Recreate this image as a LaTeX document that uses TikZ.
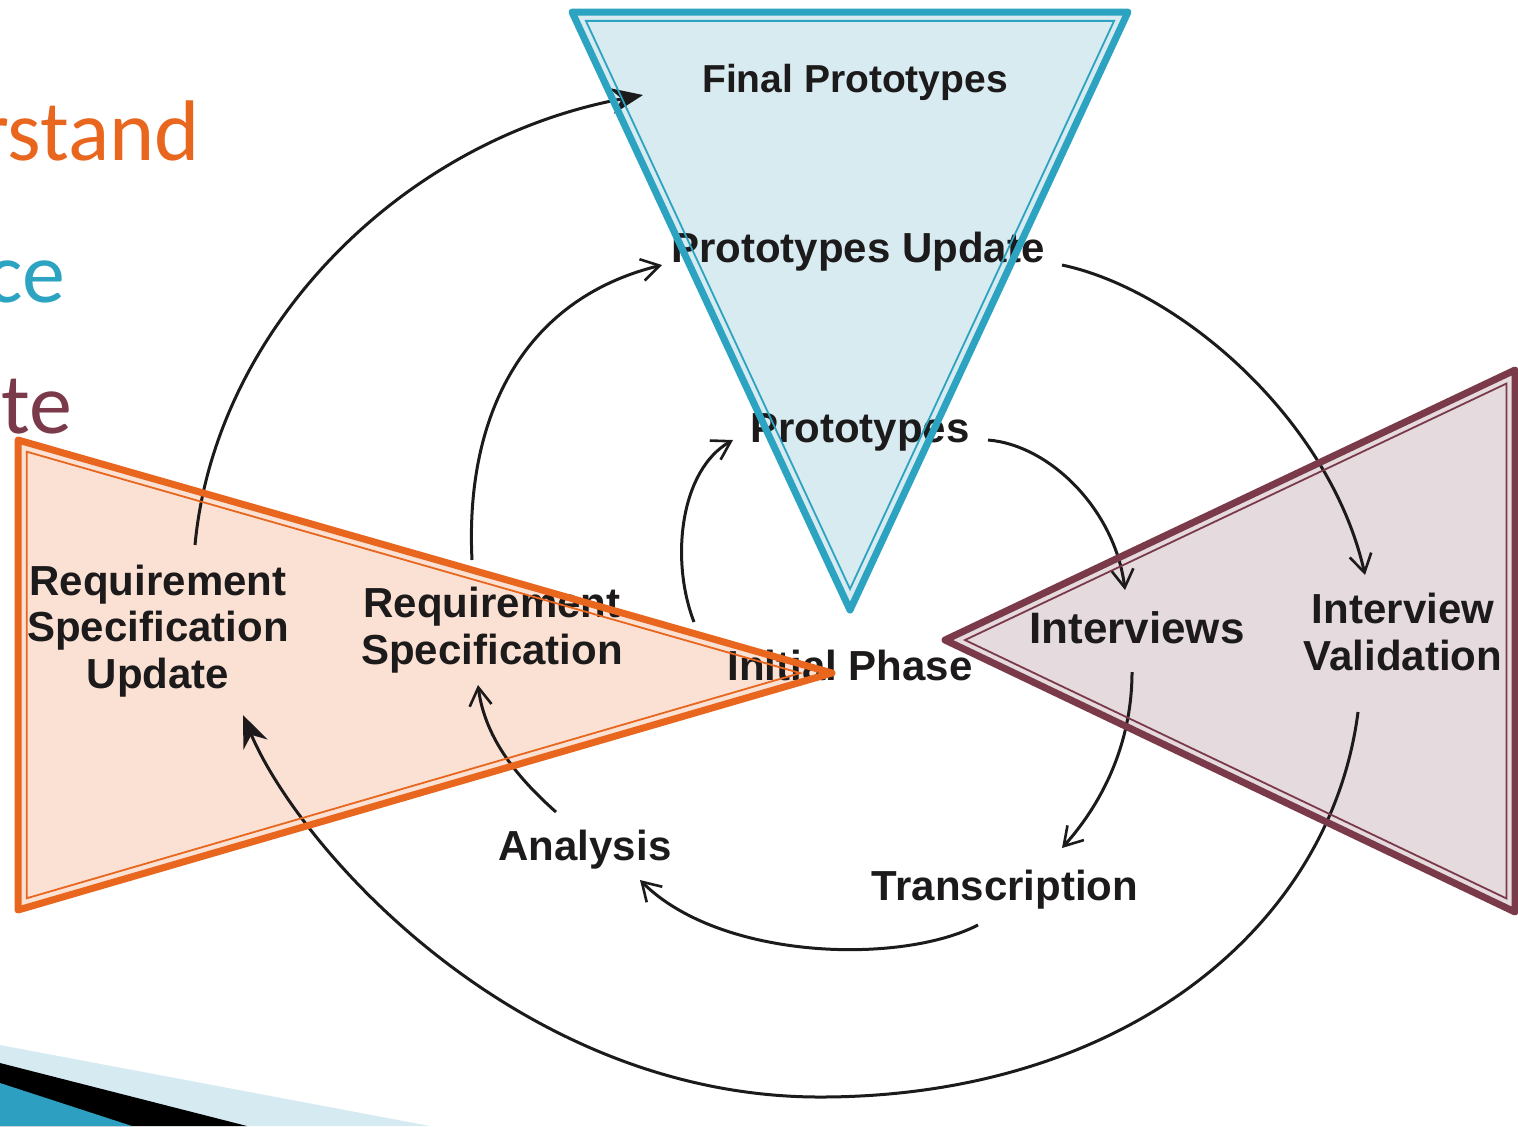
\documentclass[tikz,border=0pt]{standalone}
\usepackage{fontspec}
\setmainfont{Liberation Sans}
\newfontfamily\slidefont{Carlito}
\usetikzlibrary{arrows.meta,calc}
\definecolor{bluefill}{HTML}{D7EBF1}
\definecolor{blueline}{HTML}{2CA3C0}
\definecolor{orfill}{HTML}{FBE1D4}
\definecolor{orline}{HTML}{E8661E}
\definecolor{mafill}{HTML}{E5DADD}
\definecolor{maline}{HTML}{7B3A4A}
\definecolor{ink}{HTML}{1C1A1A}
\definecolor{lightband}{HTML}{D6EAF1}
\definecolor{bandblue}{HTML}{2D9FC0}
\begin{document}
\begin{tikzpicture}[x=0.5pt,y=-0.5pt,
 lab/.style={font=\fontsize{21}{23.25}\selectfont\bfseries, text=ink, align=center, anchor=base, inner sep=0pt},
 slide/.style={font=\slidefont\fontsize{43}{50}\selectfont, anchor=base east, inner sep=0pt},
 flow/.style={draw=ink, line width=1.5pt, -{Straight Barb[length=9pt,width=11pt,line width=1.3pt]}},
 bigflow/.style={draw=ink, line width=1.5pt, -{Stealth[length=16pt,width=13pt]}},
 outer/.style={line width=3.5pt, line join=round},
 inner/.style={line width=0.9pt, line join=miter}]
\useasboundingbox (0,0) rectangle (1518,1126);
\clip (0,0) rectangle (1518,1126);
% triangle corners
\coordinate (bA) at (572,12);  \coordinate (bB) at (1128,12); \coordinate (bC) at (850,610);
\coordinate (bI) at (850,189.3);
\coordinate (oA) at (18,440);  \coordinate (oB) at (18,910);  \coordinate (oC) at (832,673);
\coordinate (oI) at (194.8,674.4);
\coordinate (mA) at (945,640); \coordinate (mB) at (1515,370); \coordinate (mC) at (1515,912);
\coordinate (mI) at (1343.8,640.6);
% slide text
\node[slide, text=orline] (w1) at (200,160) {rstand};
\node[slide, text=blueline] (w2) at (66,302) {ce};
\node[slide, text=maline] (w3) at (73,433) {te};
% fills
\fill[bluefill] (bA) -- (bB) -- (bC) -- cycle;
\fill[orfill] (oA) -- (oB) -- (oC) -- cycle;
\fill[mafill] (mA) -- (mB) -- (mC) -- cycle;
% bottom-left decoration
\fill[lightband] (0,1045) -- (430,1126) -- (0,1126) -- cycle;
\fill[black] (0,1063) -- (247,1126) -- (0,1126) -- cycle;
\fill[bandblue] (0,1083) -- (132,1126) -- (0,1126) -- cycle;
% labels (anchor base = last line baseline)
\node[lab, font=\fontsize{19.5}{22}\selectfont\bfseries] (fin) at (855,92) {Final Prototypes};
\node[lab] (pup) at (858,262) {Prototypes Update};
\node[lab] (pro) at (860,442) {Prototypes};
\node[lab] (ini) at (850,680) {Initial Phase};
\node[lab, font=\fontsize{22}{23.25}\selectfont\bfseries] (itv) at (1137,643) {Interviews};
\node[lab] (val) at (1403,670) {Interview\\Validation};
\node[lab] (tra) at (1005,900) {Transcription};
\node[lab] (ana) at (585,860) {Analysis};
\node[lab] (rsp) at (492,664) {Requirement\\Specification};
\node[lab] (rsu) at (158,688) {Requirement\\Specification\\Update};
% connector end points
\coordinate (a1s) at (694,622);  \coordinate (a1e) at (733,440);
\coordinate (a2s) at (988,440);  \coordinate (a2e) at (1125,590);
\coordinate (a3s) at (1132,672); \coordinate (a3e) at (1062,848);
\coordinate (a4s) at (978,925);  \coordinate (a4e) at (640,880);
\coordinate (a5s) at (556,812);  \coordinate (a5e) at (478,685);
\coordinate (a6s) at (472,560);  \coordinate (a6e) at (662,265);
\coordinate (a7s) at (1062,265); \coordinate (a7e) at (1365,575);
\coordinate (a8s) at (1358,712); \coordinate (a8m) at (820,1097); \coordinate (a8e) at (243,715);
\coordinate (a9s) at (195,545);  \coordinate (a9e) at (643,95);
% connectors
\draw[flow] (a1s) .. controls (670,560) and (680,470) .. (a1e);
\draw[flow] (a2s) .. controls (1050,445) and (1115,510) .. (a2e);
\draw[flow] (a3s) .. controls (1132,740) and (1105,800) .. (a3e);
\draw[flow] (a4s) .. controls (900,965) and (720,960) .. (a4e);
\draw[flow] (a5s) .. controls (520,780) and (485,740) .. (a5e);
\draw[flow] (a6s) .. controls (465,420) and (520,300) .. (a6e);
\draw[flow] (a7s) .. controls (1180,290) and (1330,420) .. (a7e);
\draw[bigflow] (a8s) .. controls (1330,930) and (1120,1097) .. (a8m)
   .. controls (520,1097) and (300,850) .. (a8e);
\draw[bigflow] (a9s) .. controls (215,330) and (400,140) .. (a9e);
% outlines
\draw[outer, draw=blueline] (bA) -- (bB) -- (bC) -- cycle;
\draw[inner, draw=blueline] ($(bI)!0.95!(bA)$) -- ($(bI)!0.95!(bB)$) -- ($(bI)!0.95!(bC)$) -- cycle;
\draw[outer, draw=orline] (oA) -- (oB) -- (oC) -- cycle;
\draw[inner, draw=orline] ($(oI)!0.95!(oA)$) -- ($(oI)!0.95!(oB)$) -- ($(oI)!0.95!(oC)$) -- cycle;
\draw[outer, draw=maline] (mA) -- (mB) -- (mC) -- cycle;
\draw[inner, draw=maline] ($(mI)!0.95!(mA)$) -- ($(mI)!0.95!(mB)$) -- ($(mI)!0.95!(mC)$) -- cycle;
\end{tikzpicture}
\end{document}
